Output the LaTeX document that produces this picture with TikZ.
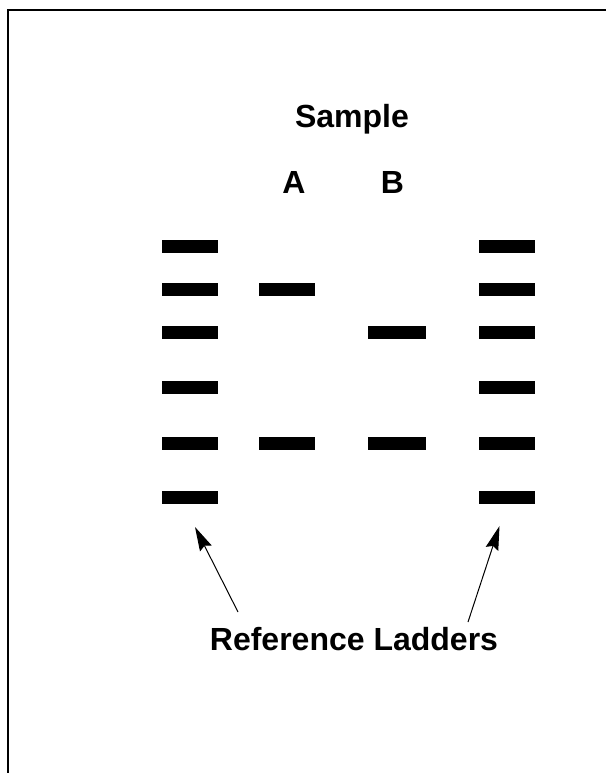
\documentclass[tikz,border=0pt]{standalone}
\usepackage{fontspec}
\setmainfont{Liberation Sans}
\usetikzlibrary{arrows.meta}
\begin{document}
\begin{tikzpicture}[x=1pt,y=-1pt,
  band/.style={rectangle,fill=black,inner sep=0pt,minimum width=56pt,minimum height=13pt},
  lbl/.style={anchor=base,inner sep=0pt,font=\fontsize{32}{38}\selectfont\bfseries},
  pointer/.style={line width=1pt,-{Stealth[length=24pt,width=13pt,inset=3pt]}}]
\useasboundingbox (0,0) rectangle (605,773);
\fill[white] (0,0) rectangle (605,773);
\draw[line width=2pt] (8,773) -- (8,10) -- (606,10);
% labels
\node[lbl] (sample) at (352,128) {Sample};
\node[lbl] (la) at (294,193) {A};
\node[lbl] (lb) at (392.5,193) {B};
\node[lbl] (ref) at (354,650) {Reference Ladders};
% left ladder
\node[band] (l1) at (190,246) {};
\node[band] (l2) at (190,289) {};
\node[band] (l3) at (190,332.5) {};
\node[band] (l4) at (190,387) {};
\node[band] (l5) at (190,443) {};
\node[band] (l6) at (190,497.5) {};
% right ladder
\node[band] (r1) at (507,246) {};
\node[band] (r2) at (507,289) {};
\node[band] (r3) at (507,332.5) {};
\node[band] (r4) at (507,387) {};
\node[band] (r5) at (507,443) {};
\node[band] (r6) at (507,497.5) {};
% samples
\node[band] (a1) at (287,289) {};
\node[band] (a2) at (287,443) {};
\node[band,minimum width=58pt] (b1) at (397,332.5) {};
\node[band,minimum width=58pt] (b2) at (397,443) {};
% arrows
\coordinate (lt) at (238,612);
\coordinate (lh) at (195,527);
\coordinate (rt) at (468,622);
\coordinate (rh) at (499.5,526);
\draw[pointer] (lt) -- (lh);
\draw[pointer] (rt) -- (rh);
\end{tikzpicture}
\end{document}
